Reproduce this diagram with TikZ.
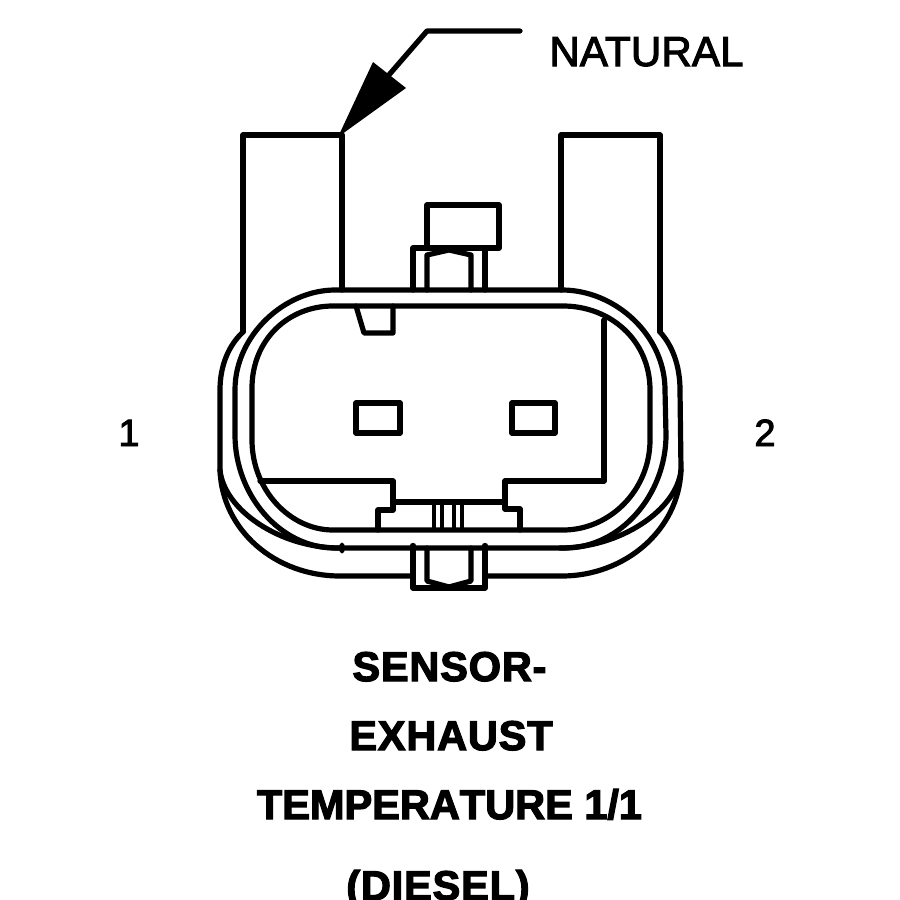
\documentclass[tikz,border=0pt]{standalone}
\usepackage{fontspec}
\setmainfont{Liberation Sans}
\newfontfamily\titlefont{Liberation Sans}[UprightFont=* Bold,Kerning=Off,LetterSpace=2,FakeBold=3]
\newfontfamily\titletight{Liberation Sans}[UprightFont=* Bold,Kerning=Off,FakeBold=3]
\newfontfamily\plainfont{Liberation Sans}[FakeBold=2.5,LetterSpace=0.5]
\tikzset{
  ink/.style={draw=black,line width=5.2pt,line join=round,line cap=round},
  thinink/.style={draw=black,line width=3.4pt,line cap=butt},
  lbl/.style={inner sep=0pt,anchor=base,text=black},
  plain/.style={lbl,font=\plainfont\fontsize{42}{42}\selectfont},
  pin/.style={lbl,font=\plainfont\fontsize{38}{38}\selectfont},
  title/.style={lbl,font=\titlefont\fontsize{41.5}{41.5}\selectfont},
  titlewide/.style={lbl,font=\titletight\fontsize{41.5}{41.5}\selectfont}
}
\begin{document}
\begin{tikzpicture}[x=1pt,y=-1pt]
\path[use as bounding box,fill=white] (0,0) rectangle (900,900);
\clip (0,0) rectangle (900,900);
% latches
\draw[ink] (243,332) -- (243,135) -- (342,135) -- (342,290);
\draw[ink] (561,290) -- (561,135) -- (660,135) -- (660,332);
% inner loop
\draw[ink] (333,306) -- (563,306) .. controls (610,306) and (650,340) .. (650,390)
  -- (650,440) .. controls (650,490) and (610,530) .. (563,530) -- (333,530)
  .. controls (290,530) and (252,490) .. (252,440) -- (252,388)
  .. controls (252,340) and (288,306) .. (333,306) -- cycle;
% middle loop
\draw[ink] (335,290) -- (562,290) .. controls (615,290) and (665,335) .. (665,390)
  -- (666,435) .. controls (666,495) and (620,548) .. (565,548) -- (335,548)
  .. controls (280,548) and (235,495) .. (235,435) -- (235,390)
  .. controls (235,335) and (285,290) .. (335,290) -- cycle;
% outer shell
\draw[ink] (243,332) .. controls (229,345) and (220,365) .. (220,390) -- (220,470)
  .. controls (222,530) and (275,576) .. (340,576) -- (413,576);
\draw[ink] (220,470) .. controls (224,510) and (280,548) .. (340,548);
\draw[ink] (660,332) .. controls (672,345) and (680,365) .. (680,390) -- (681,470)
  .. controls (679,530) and (625,576) .. (562,576) -- (485,576);
\draw[ink] (681,470) .. controls (677,510) and (620,548) .. (560,548);
% top clip
\draw[ink] (427,248) -- (427,205) -- (499,205) -- (499,248) -- (413,248) -- (413,290);
\draw[ink] (485,248) -- (485,290);
\draw[ink] (427,290) -- (427,255) -- (449,250) -- (471,255) -- (471,290);
% bottom clip
\draw[ink] (413,548) -- (413,588) -- (485,588) -- (485,548);
\draw[ink] (427,548) -- (427,581) -- (449,587) -- (471,581) -- (471,548);
% notch
\draw[ink] (356,306) -- (364,333) -- (393,333) -- (393,306);
% contacts
\draw[ink] (356,403) rectangle (400,433);
\draw[ink] (512,403) rectangle (555,433);
% inner housing
\draw[ink] (604,320) -- (604,481) -- (505,481) -- (505,509) -- (520,509) -- (520,530);
\draw[ink] (260,481) -- (393,481) -- (393,510) -- (378,510) -- (378,530);
\draw[ink] (393,502) -- (505,502);
\foreach \q in {434,442,454,462} \draw[thinink] (\q,502) -- (\q,530);
% small dots
\fill (342,548) ellipse (3 and 5.5);
\fill (413,546) circle (3.2);
\fill (485,546) circle (3.2);
% leader arrow
\draw[ink] (520,31) -- (427,31) -- (388,76);
\fill (338,137) -- (373,62) -- (406,88) -- cycle;
% labels
\node[plain] (natural) at (646.5,66) {NATURAL};
\node[pin] (one) at (129,446) {1};
\node[pin] (two) at (765,446) {2};
\node[title] (t1) at (449.5,681) {SENSOR-};
\node[title] (t2) at (451,750) {EXHAUST};
\node[titlewide] (t3) at (449.5,819) {TEMPERATURE 1/1};
\node[title] (t4) at (438,900) {(DIESEL)};
\end{tikzpicture}
\end{document}
